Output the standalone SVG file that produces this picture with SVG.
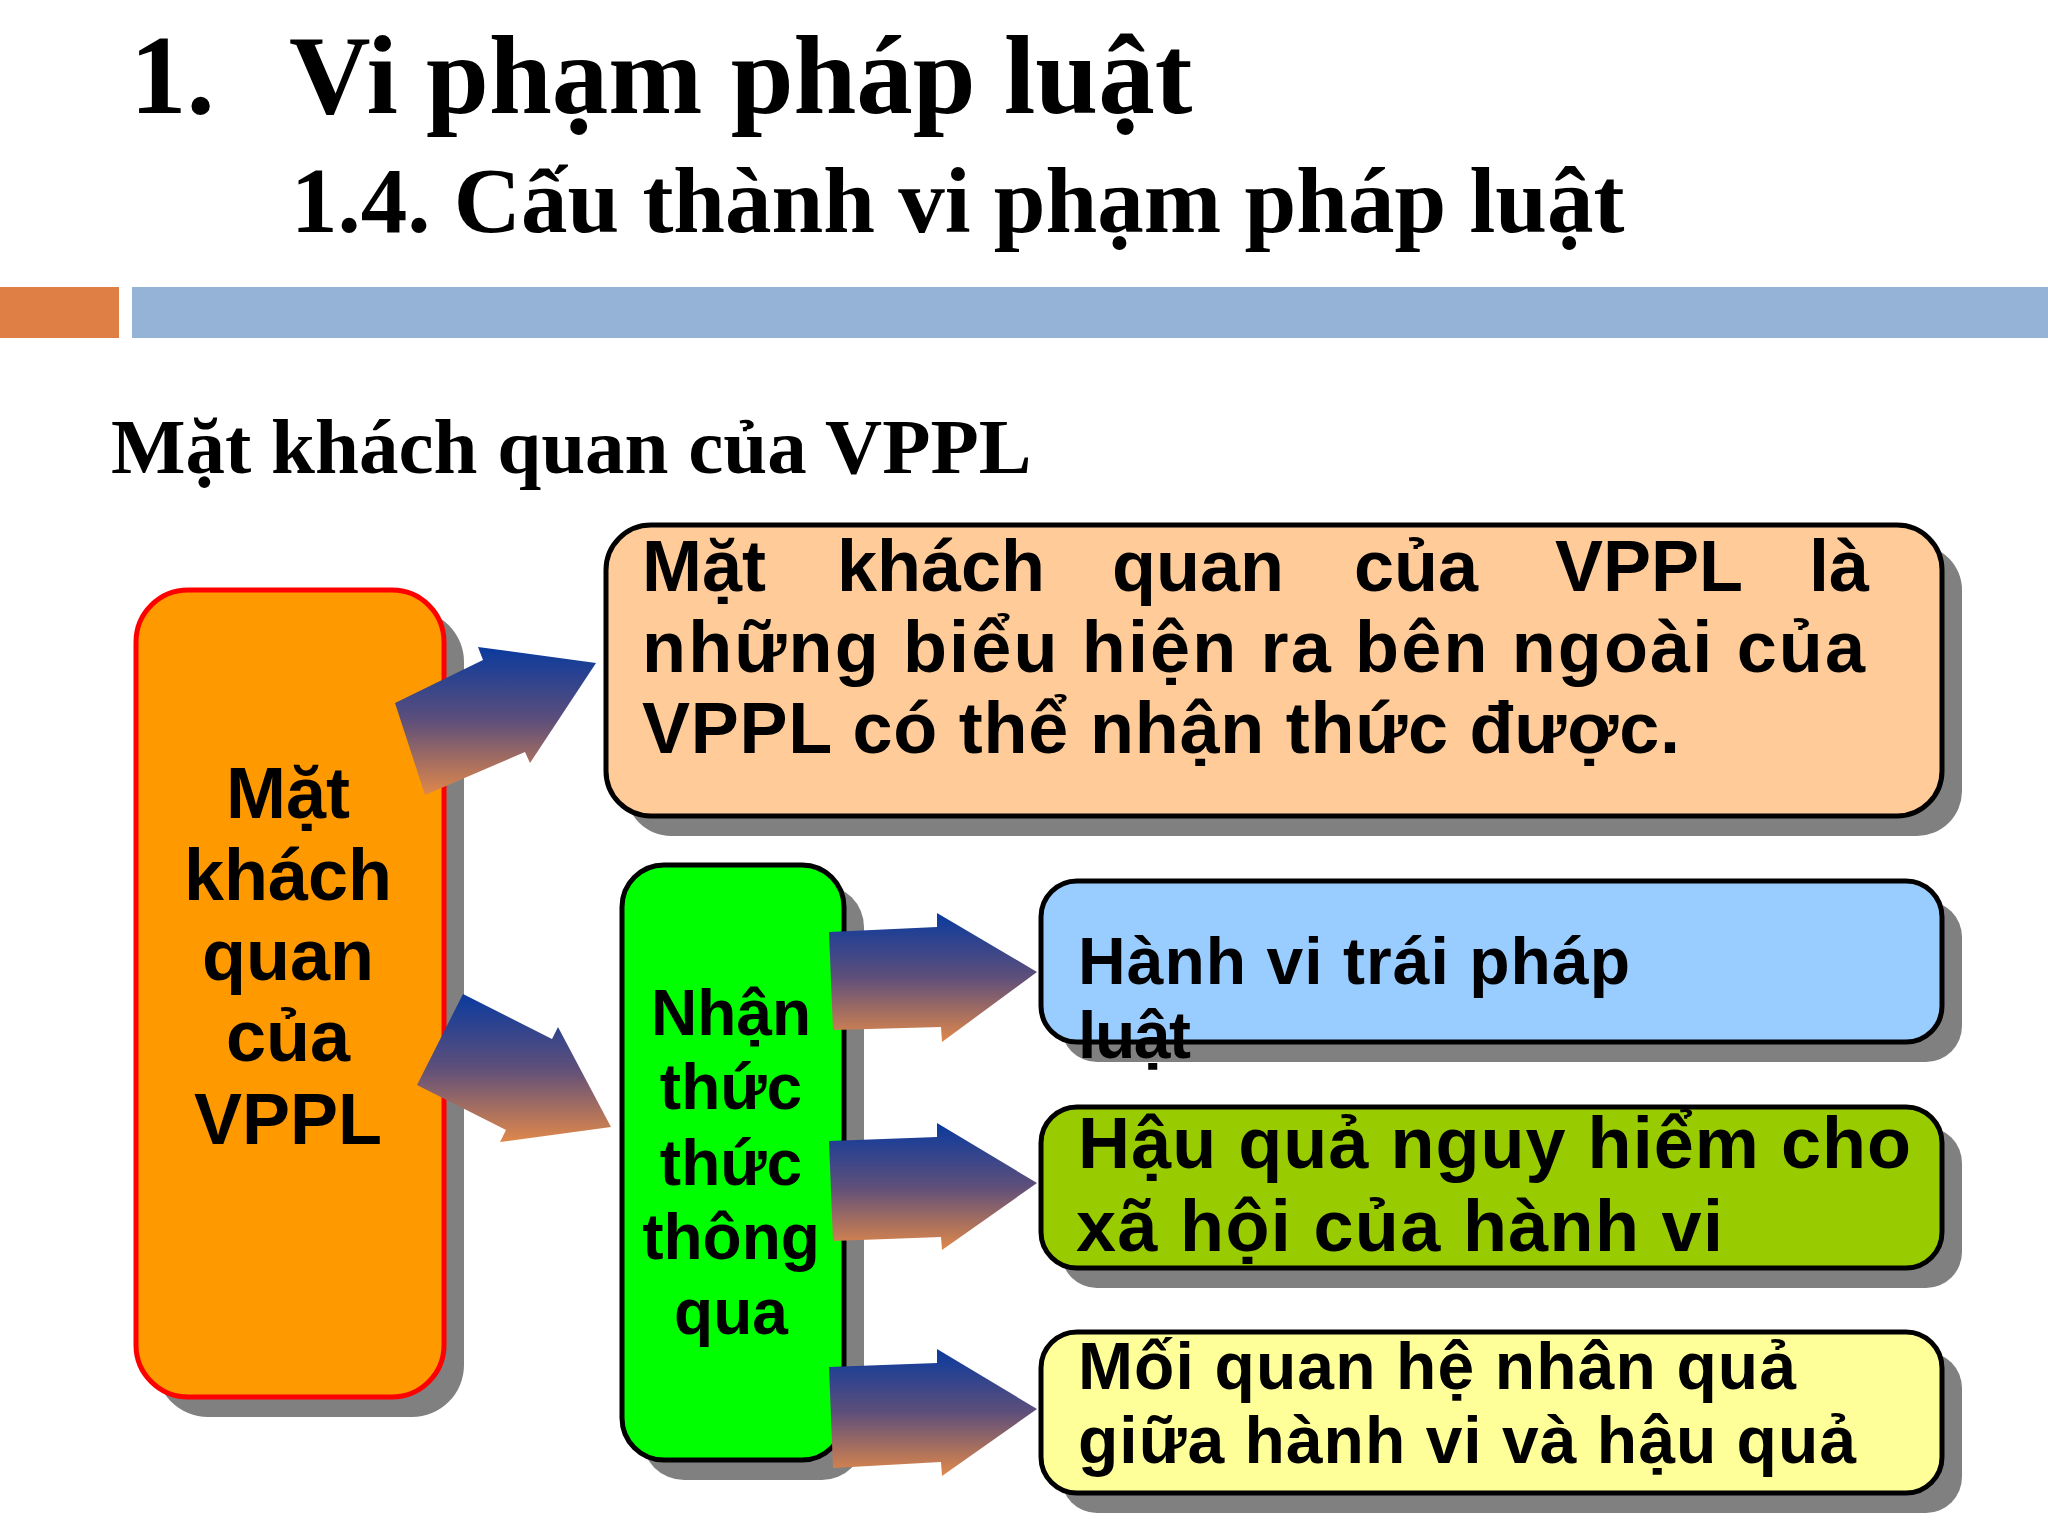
<svg xmlns="http://www.w3.org/2000/svg" width="2048" height="1536" viewBox="0 0 2048 1536">
<style>
.title{font-family:"Liberation Serif","Times New Roman",serif;font-weight:bold;fill:#000}
.lbl{font-family:"Liberation Sans",Arial,sans-serif;font-weight:bold;fill:#000}
.shadow{fill:#808080}
.box{stroke:#000;stroke-width:5}
.arrow{fill:url(#ag)}
</style>
<defs>
<linearGradient id="ag" x1="0" y1="0" x2="0" y2="1">
<stop offset="0" stop-color="#0A3A9E"/>
<stop offset="0.5" stop-color="#5E4F7A"/>
<stop offset="1" stop-color="#E0884A"/>
</linearGradient>
</defs>
<rect width="2048" height="1536" fill="#fff"/>
<g id="header">
<text class="title" x="130" y="113" font-size="113">1.</text>
<text class="title" x="289" y="113" font-size="113">Vi phạm pháp luật</text>
<text class="title" x="291" y="232" font-size="93">1.4. Cấu thành vi phạm pháp luật</text>
<rect x="0" y="287" width="119" height="51" fill="#E07F45"/>
<rect x="132" y="287" width="1916" height="51" fill="#95B3D7"/>
<text class="title" x="111" y="473" font-size="79">Mặt khách quan của VPPL</text>
</g>
<g id="node-orange">
<rect class="shadow" x="156" y="610" width="308" height="807" rx="52"/>
<rect x="136" y="590" width="308" height="807" rx="52" fill="#FF9900" stroke="#FF0000" stroke-width="5"/>
<text class="lbl" font-size="72" text-anchor="middle"><tspan x="288" y="818">Mặt</tspan><tspan x="288" y="900">khách</tspan><tspan x="288" y="980">quan</tspan><tspan x="288" y="1061">của</tspan><tspan x="288" y="1144">VPPL</tspan></text>
</g>
<g id="node-peach">
<rect class="shadow" x="626" y="545" width="1336" height="291" rx="45"/>
<rect class="box" x="606" y="525" width="1336" height="291" rx="45" fill="#FFCC99"/>
<text class="lbl" font-size="72" y="591"><tspan x="642">Mặt</tspan><tspan x="837">khách</tspan><tspan x="1112">quan</tspan><tspan x="1354">của</tspan><tspan x="1555">VPPL</tspan><tspan x="1809">là</tspan></text>
<text class="lbl" font-size="72" x="642" y="672" textLength="1223" lengthAdjust="spacing">những biểu hiện ra bên ngoài của</text>
<text class="lbl" font-size="72" x="642" y="753" textLength="1038" lengthAdjust="spacing">VPPL có thể nhận thức được.</text>
</g>
<g id="node-green">
<rect class="shadow" x="642" y="885" width="222" height="595" rx="42"/>
<rect class="box" x="622" y="865" width="222" height="595" rx="42" fill="#00FF00"/>
<text class="lbl" font-size="64" text-anchor="middle"><tspan x="731" y="1035">Nhận</tspan><tspan x="731" y="1109">thức</tspan><tspan x="731" y="1185">thức</tspan><tspan x="731" y="1259">thông</tspan><tspan x="731" y="1334">qua</tspan></text>
</g>
<g id="node-blue">
<rect class="shadow" x="1061" y="901" width="901" height="161" rx="36"/>
<rect class="box" x="1041" y="881" width="901" height="161" rx="36" fill="#99CCFF"/>
<text class="lbl" font-size="66" x="1078" y="984" textLength="552" lengthAdjust="spacing">Hành vi trái pháp</text>
<text class="lbl" font-size="66" x="1078" y="1058" textLength="113" lengthAdjust="spacing">luật</text>
</g>
<g id="node-olive">
<rect class="shadow" x="1061" y="1127" width="901" height="161" rx="36"/>
<rect class="box" x="1041" y="1107" width="901" height="161" rx="36" fill="#99CC00"/>
<text class="lbl" font-size="72" x="1078" y="1168" textLength="833" lengthAdjust="spacing">Hậu quả nguy hiểm cho</text>
<text class="lbl" font-size="72" x="1076" y="1251" textLength="647" lengthAdjust="spacing">xã hội của hành vi</text>
</g>
<g id="node-yellow">
<rect class="shadow" x="1061" y="1352" width="901" height="161" rx="36"/>
<rect class="box" x="1041" y="1332" width="901" height="161" rx="36" fill="#FFFF99"/>
<text class="lbl" font-size="66" x="1078" y="1389" textLength="718" lengthAdjust="spacing">Mối quan hệ nhân quả</text>
<text class="lbl" font-size="66" x="1078" y="1463" textLength="778" lengthAdjust="spacing">giữa hành vi và hậu quả</text>
</g>
<g id="connectors">
<polygon class="arrow" points="395,703 483,660 478,647 596,663 530,763 525,752 425,795"/>
<polygon class="arrow" points="463,994 552,1039 558,1027 611,1127 500,1142 506,1130 417,1085"/>
<polygon class="arrow" points="829,932 937,927 937,913 1037,972 942,1042 941,1027 833,1030"/>
<polygon class="arrow" points="829,1141 937,1137 937,1123 1037,1183 942,1250 941,1237 833,1241"/>
<polygon class="arrow" points="829,1367 937,1363 937,1349 1037,1409 942,1476 941,1462 833,1468"/>
</g>
</svg>
